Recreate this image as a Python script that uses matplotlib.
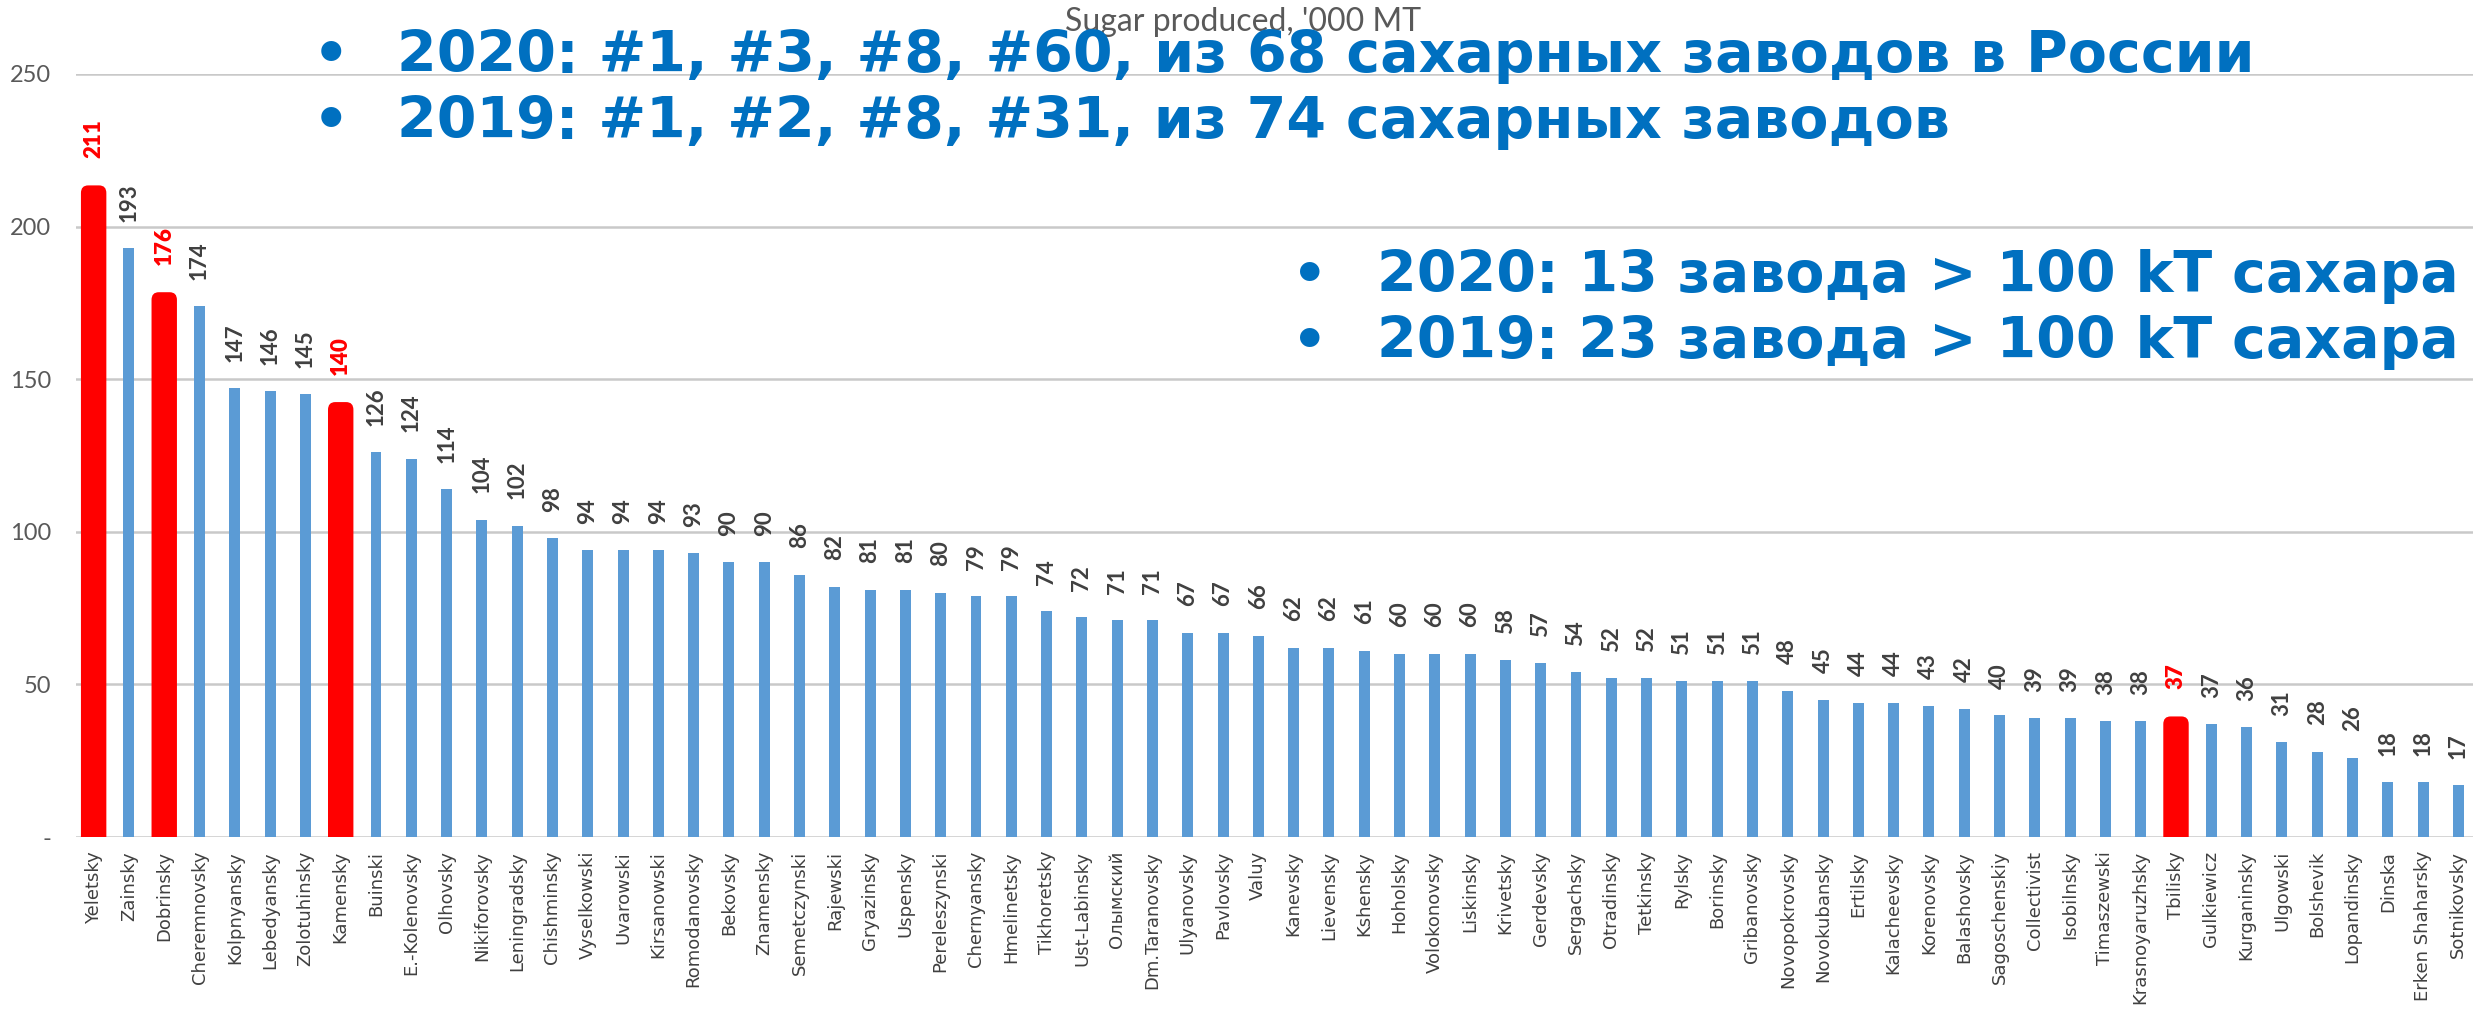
import matplotlib
matplotlib.use("Agg")
import matplotlib.pyplot as plt
from matplotlib.patches import FancyBboxPatch

plants = ["Yeletsky", "Zainsky", "Dobrinsky", "Cheremnovsky", "Kolpnyansky", "Lebedyansky",
          "Zolotuhinsky", "Kamensky", "Buinski", "E.-Kolenovsky", "Olhovsky", "Nikiforovsky",
          "Leningradsky", "Chishminsky", "Vyselkowski", "Uvarowski", "Kirsanowski", "Romodanovsky",
          "Bekovsky", "Znamensky", "Semetczynski", "Rajewski", "Gryazinsky", "Uspensky",
          "Pereleszynski", "Chernyansky", "Hmelinetsky", "Tikhoretsky", "Ust-Labinsky", "Олымский",
          "Dm.Taranovsky", "Ulyanovsky", "Pavlovsky", "Valuy", "Kanevsky", "Lievensky",
          "Kshensky", "Hoholsky", "Volokonovsky", "Liskinsky", "Krivetsky", "Gerdevsky",
          "Sergachsky", "Otradinsky", "Tetkinsky", "Rylsky", "Borinsky", "Gribanovsky",
          "Novopokrovsky", "Novokubansky", "Ertilsky", "Kalacheevsky", "Korenovsky", "Balashovsky",
          "Sagoschenskiy", "Collectivist", "Isobilnsky", "Timaszewski", "Krasnoyaruzhsky", "Tbilisky",
          "Gulkiewicz", "Kurganinsky", "Ulgowski", "Bolshevik", "Lopandinsky", "Dinska",
          "Erken Shaharsky", "Sotnikovsky"]
sugar = [211, 193, 176, 174, 147, 146, 145, 140, 126, 124, 114, 104,
         102, 98, 94, 94, 94, 93, 90, 90, 86, 82, 81, 81,
         80, 79, 79, 74, 72, 71, 71, 67, 67, 66, 62, 62,
         61, 60, 60, 60, 58, 57, 54, 52, 52, 51, 51, 51,
         48, 45, 44, 44, 43, 42, 40, 39, 39, 38, 38, 37,
         37, 36, 31, 28, 26, 18, 18, 17]
highlighted = ["Yeletsky", "Dobrinsky", "Kamensky", "Tbilisky"]
yticks = [0, 50, 100, 150, 200, 250]
ytick_labels = ["-", "50", "100", "150", "200", "250"]

title = "Sugar produced, '000 MT"
notes_top = ["2020: #1, #3, #8, #60, из 68 сахарных заводов в России",
             "2019: #1, #2, #8, #31, из 74 сахарных заводов"]
notes_right = ["2020: 13 завода > 100 kT сахара",
               "2019: 23 завода > 100 kT сахара"]

BLUE = "#5B9BD5"
RED = "#FF0000"
TXT_BLUE = "#0070C0"
GRID = "#C9C9C9"

W, H = 2473, 1009
fig = plt.figure(figsize=(W / 100, H / 100), dpi=100)
ax = fig.add_axes([76 / W, 1 - 837 / H, (2476 - 76) / W, (837 - 74) / H])

x = list(range(len(plants)))
bars = ax.bar(x, sugar, width=0.31, color=BLUE, zorder=2)

for i, (name, v) in enumerate(zip(plants, sugar)):
    if name in highlighted:
        b = bars[i]
        patch = FancyBboxPatch((b.get_x(), 0), b.get_width(), v,
                               boxstyle="round,pad=0.205",
                               mutation_aspect=12.2,
                               facecolor=RED, edgecolor="none", zorder=3)
        ax.add_patch(patch)
        ax.annotate(str(v), (i, v), xytext=(0, 25), textcoords="offset points",
                    rotation=90, ha="center", va="bottom", fontsize=16,
                    fontweight="heavy", family="Lato", color=RED, zorder=4)
    else:
        ax.annotate(str(v), (i, v), xytext=(0, 19), textcoords="offset points",
                    rotation=90, ha="center", va="bottom", fontsize=16,
                    fontweight="bold", family="Lato", color="#404040", zorder=4)

ax.set_xlim(-0.5, len(plants) - 0.5)
ax.set_ylim(0, 250)
ax.set_yticks(yticks)
ax.set_yticklabels(ytick_labels, fontsize=17, color="#595959", family="Lato")
ax.set_xticks(x)
ax.set_xticklabels(plants, rotation=90, fontsize=13, color="#404040")
ax.tick_params(axis="y", length=0, pad=18)
ax.tick_params(axis="x", length=0, pad=10)
for s in ["top", "right", "left", "bottom"]:
    ax.spines[s].set_visible(False)
ax.yaxis.grid(True, color=GRID, linewidth=1.8, zorder=0)
ax.set_axisbelow(True)

fig.text(1243 / W, 1 - 22 / H, title, ha="center", va="center", fontsize=23,
         color="#595959", family="Lato", zorder=1)

for j, (line, base) in enumerate(zip(notes_top, [72, 138])):
    fig.text(331 / W, 1 - base / H, "•", ha="center", va="baseline", fontsize=41,
             fontweight="bold", color=TXT_BLUE, zorder=5)
    fig.text(397 / W, 1 - base / H, line, ha="left", va="baseline", fontsize=41,
             fontweight="bold", color=TXT_BLUE, zorder=5)

for j, (line, base) in enumerate(zip(notes_right, [292, 358])):
    fig.text(1310 / W, 1 - base / H, "•", ha="center", va="baseline", fontsize=40,
             fontweight="bold", color=TXT_BLUE, zorder=5)
    fig.text(1377 / W, 1 - base / H, line, ha="left", va="baseline", fontsize=41,
             fontweight="bold", color=TXT_BLUE, zorder=5)

fig.savefig("out.png", dpi=100, facecolor="white")
